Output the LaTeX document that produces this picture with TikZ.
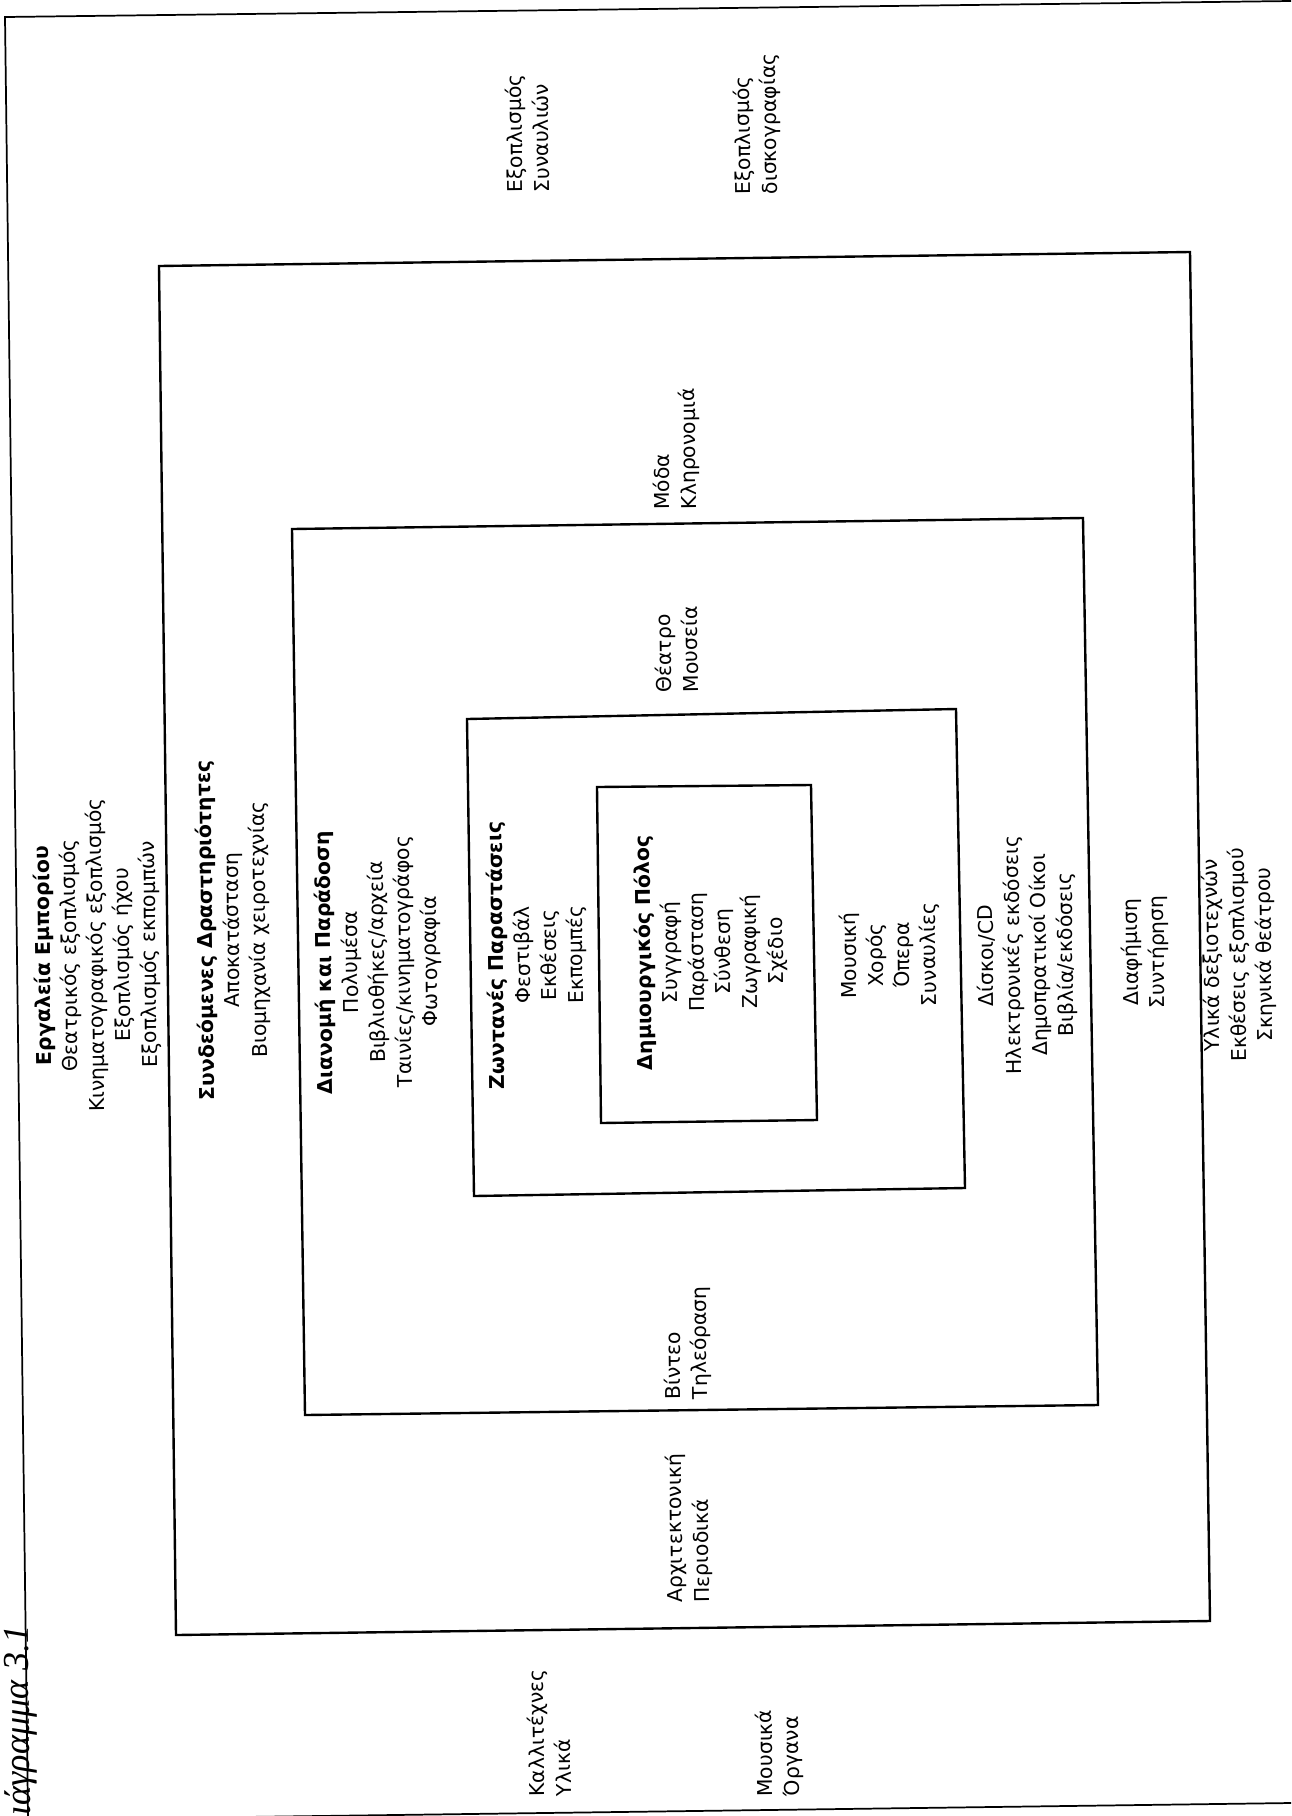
\documentclass[tikz,border=0pt]{standalone}
\usepackage{fontspec}
\setmainfont{DejaVu Sans}
\newfontfamily\captionfont{Liberation Serif}
\tikzset{
  block/.style={rotate=90.7, align=center, inner sep=0pt, font=\fontsize{9.4}{12.2}\selectfont},
  side/.style={rotate=90.7, align=left, anchor=west, inner sep=0pt, font=\fontsize{9.4}{12.2}\selectfont},
  frame/.style={line width=1.1pt},
}
\begin{document}
\begin{tikzpicture}[x=0.4613pt, y=-0.4613pt]
	\useasboundingbox (0,0) rectangle (1291,1816);
	\fill[white] (0,0) rectangle (1291,1816);
	\clip (0,0) rectangle (1291,1816);

	%page frame
	\draw[line width=0.8pt] (1291,1) -- (5,17) -- (28,1816);
	\draw[line width=0.8pt] (20,1820) -- (1291,1803);
	\node[rotate=90.7, anchor=east, inner sep=0pt, font=\captionfont\itshape\fontsize{16.8}{18}\selectfont] (caption) at (19,1625) {Διάγραμμα 3.1};

	%nested frames, outer to inner
	\draw[frame] (159,266) -- (1190,252) -- (1210,1621) -- (176,1635) -- cycle;
	\draw[frame] (292,529) -- (1083,518) -- (1098,1405) -- (305,1415) -- cycle;
	\draw[frame] (467,719) -- (956,709) -- (965,1188) -- (474,1196) -- cycle;
	\draw[frame] (597,787) -- (811,785) -- (817,1120) -- (601,1123) -- cycle;

	%centre column
	\node[block] (tools) at (97,955) {\textbf{Εργαλεία Εμπορίου}\\Θεατρικός εξοπλισμός\\Κινηματογραφικός εξοπλισμός\\Εξοπλισμός ήχου\\Εξοπλισμός εκπομπών};
	\node[block] (related) at (233,930) {\textbf{Συνδεόμενες Δραστηριότητες}\\Αποκατάσταση\\Βιομηχανία χειροτεχνίας};
	\node[block] (distrib) at (378,962) {\textbf{Διανομή και Παράδοση}\\Πολυμέσα\\Βιβλιοθήκες/αρχεία\\Ταινίες/κινηματογράφος\\Φωτογραφία};
	\node[block] (live) at (537,955) {\textbf{Ζωντανές Παραστάσεις}\\Φεστιβάλ\\Εκθέσεις\\Εκπομπές};
	\node[block] (core) at (711,952) {\textbf{Δημιουργικός Πόλος}\\Συγγραφή\\Παράσταση\\Σύνθεση\\Ζωγραφική\\Σχέδιο};
	\node[block] (music) at (890,955) {Μουσική\\Χορός\\Όπερα\\Συναυλίες};
	\node[block] (records) at (1027,955) {Δίσκοι/CD\\Ηλεκτρονικές εκδόσεις\\Δημοπρατικοί Οίκοι\\Βιβλία/εκδόσεις};
	\node[block] (advert) at (1145,952) {Διαφήμιση\\Συντήρηση};
	\node[block] (crafts) at (1239,955) {Υλικά δεξιοτεχνών\\Εκθέσεις εξοπλισμού\\Σκηνικά θεάτρου};

	%labels along the middle band
	\node[side] (concerts) at (528,193) {Εξοπλισμός\\Συναυλιών};
	\node[side] (discog) at (758,195) {Εξοπλισμός\\δισκογραφίας};
	\node[side] (fashion) at (677,510) {Μόδα\\Κληρονομιά};
	\node[side] (theatre) at (677,693) {Θέατρο\\Μουσεία};
	\node[side] (video) at (688,1400) {Βίντεο\\Τηλεόραση};
	\node[side] (archit) at (690,1603) {Αρχιτεκτονική\\Περιοδικά};
	\node[side] (artists) at (550,1797) {Καλλιτέχνες\\Υλικά};
	\node[side] (instr) at (780,1797) {Μουσικά\\Όργανα};
\end{tikzpicture}
\end{document}
